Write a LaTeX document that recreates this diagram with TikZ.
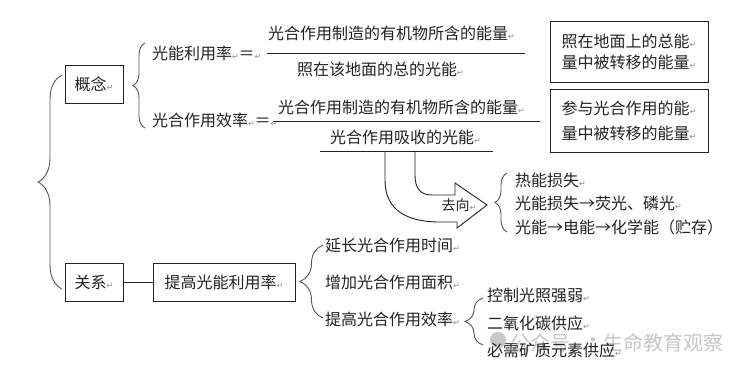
\documentclass[tikz,border=0pt]{standalone}
\usepackage{fontspec}
\setmainfont{Noto Sans CJK SC}
\newfontfamily\rtfont{DejaVu Sans}
\usetikzlibrary{decorations.pathreplacing}
\definecolor{ink}{HTML}{222222}
\definecolor{brc}{HTML}{555555}
\newcommand\rt{{\rtfont\fontsize{8}{8}\selectfont\color{black!45}↵}}
\begin{document}
\begin{tikzpicture}[x=1pt,y=-1pt,
  every node/.style={inner sep=0pt, outer sep=0pt, text=ink, font=\fontsize{16}{20}\selectfont},
  box/.style={draw=ink, line width=0.9pt, minimum height=38pt},
  txt/.style={anchor=west},
  mybrace/.style={draw=brc, line width=0.9pt, decorate, decoration={brace, amplitude=#1}},
  rule/.style={draw=ink, line width=0.9pt},
  wm/.style={anchor=west, text=black!22, font=\fontsize{20}{20}\selectfont}]
\useasboundingbox (0,0) rectangle (751,375);

% watermark
\fill[black!22] (498,340) circle (8pt);
\node[wm] (wm1) at (510,343) {公众号};
\node[wm] (wm2) at (583,343) {·};
\node[wm] (wm3) at (603,343) {生命教育观察};

% boxes
\node[box, minimum width=58pt] (gn) at (94,84) {概念\rt};
\node[box, minimum width=58pt] (gx) at (94,282) {关系\rt};
\node[box, minimum width=142pt] (tg) at (224,282) {提高光能利用率\rt};
\draw[rule] (gx.east) -- (tg.west);

\node[draw=ink, line width=0.9pt, minimum width=158pt, minimum height=61pt, align=left,
      font=\fontsize{16}{21}\selectfont] (rb1) at (629,51.5) {照在地面上的总能\rt\\量中被转移的能量\rt};
\node[draw=ink, line width=0.9pt, minimum width=158pt, minimum height=63pt, align=left,
      font=\fontsize{16}{25}\selectfont] (rb2) at (629,120.5) {参与光合作用的能\rt\\量中被转移的能量\rt};

% braces
\draw[mybrace=24pt] (62,289) -- (62,75);
\draw[mybrace=12pt] (145,128) -- (145,43);
\draw[mybrace=12pt] (507,232) -- (507,173);
\draw[mybrace=23pt] (323,318) -- (323,245);
\draw[mybrace=18pt] (483,345) -- (483,298);

% concept formulas
\node[txt] (lr) at (152,53) {光能利用率\rt＝\rt};
\node[txt] (xl) at (152,120) {光合作用效率\rt＝\rt};
\node[txt] (n1) at (268,33) {光合作用制造的有机物所含的能量\rt};
\node[txt] (d1) at (297,69) {照在该地面的总的光能\rt};
\node[txt] (n2) at (278,107) {光合作用制造的有机物所含的能量\rt};
\node[txt] (d2) at (330,137) {光合作用吸收的光能\rt};
\coordinate (f1a) at (267,53); \coordinate (f1b) at (525,53);
\coordinate (f2a) at (273,121); \coordinate (f2b) at (540,121);
\coordinate (f3a) at (320,151); \coordinate (f3b) at (493,151);
\draw[rule] (f1a) -- (f1b);
\draw[rule] (f2a) -- (f2b);
\draw[rule] (f3a) -- (f3b);

% bent block arrow
\draw[rule, line join=miter] (385,151) -- (385,180) .. controls (385,205) and (400,222) .. (440,222)
  -- (457,222) -- (457,228) -- (487,205) -- (455,183) -- (455,195) -- (432,195)
  .. controls (420,195) and (415,188) .. (415,175) -- (415,151);
\node[font=\fontsize{14}{14}\selectfont] (qx) at (459,205) {去向\rt};

% energy destinations
\node[txt] (e1) at (515,180) {热能损失\rt};
\node[txt] (e2) at (515,203) {光能损失→荧光、磷光\rt};
\node[txt] (e3) at (515,227) {光能→电能→化学能（贮存）};

% measures
\node[txt] (m1) at (325,245) {延长光合作用时间\rt};
\node[txt] (m2) at (325,282) {增加光合作用面积\rt};
\node[txt] (m3) at (325,319) {提高光合作用效率\rt};
\node[txt] (s1) at (487,295) {控制光照强弱\rt};
\node[txt] (s2) at (487,323) {二氧化碳供应\rt};
\node[txt] (s3) at (487,350) {必需矿质元素供应\rt};
\end{tikzpicture}
\end{document}
